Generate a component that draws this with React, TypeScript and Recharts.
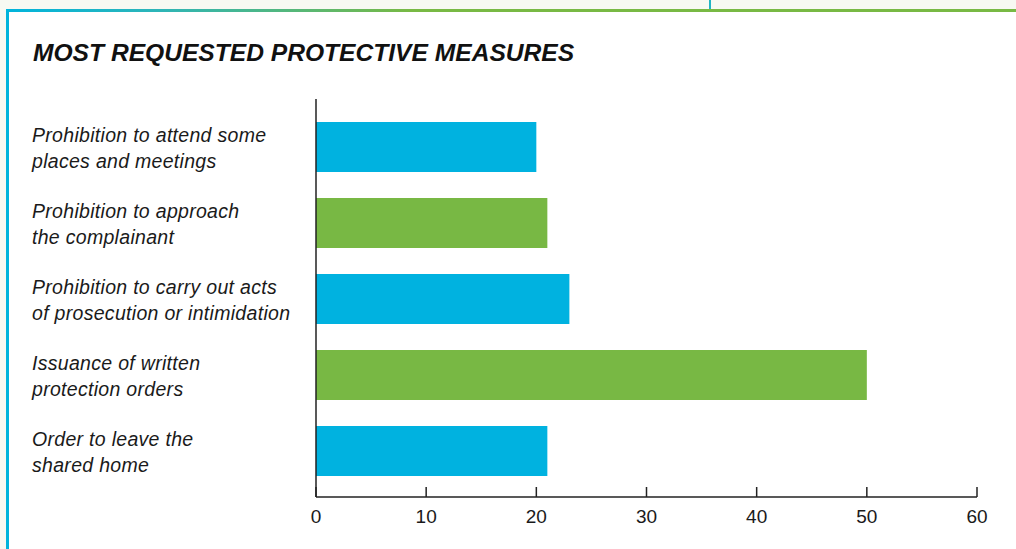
import { BarChart, Bar, XAxis, YAxis, Cell } from "recharts";

const categories = [
  "Prohibition to attend some\nplaces and meetings",
  "Prohibition to approach\nthe complainant",
  "Prohibition to carry out acts\nof prosecution or intimidation",
  "Issuance of written\nprotection orders",
  "Order to leave the\nshared home",
];
const values = [20, 21, 23, 50, 21];
const barColors = ["#00b2e0", "#78b844", "#00b2e0", "#78b844", "#00b2e0"];
const xTicks = [0, 10, 20, 30, 40, 50, 60];

const data = categories.map((name, i) => ({ name, value: values[i] }));

const FONT = '"Liberation Sans", Arial, Helvetica, sans-serif';

const CategoryTick = (props: any) => {
  const { y, payload } = props;
  const lines = String(payload.value).split("\n");
  return (
    <text x={32} y={y - 5} fill="#1a1a1a" fontSize={19.5} letterSpacing={0.3} fontStyle="italic" fontFamily={FONT}>
      {lines.map((l, i) => (
        <tspan key={i} x={32} dy={i === 0 ? 0 : 26}>{l}</tspan>
      ))}
    </text>
  );
};

const ValueTick = (props: any) => {
  const { x, y, payload } = props;
  return (
    <g>
      <line x1={x} x2={x} y1={y} y2={y - 10} stroke="#222" strokeWidth={1.5} />
      <text x={x} y={y + 26} textAnchor="middle" fill="#1a1a1a" fontSize={19} fontFamily={FONT}>
        {payload.value}
      </text>
    </g>
  );
};

export default function App() {
  return (
    <div style={{ position: "absolute", left: 0, top: 0, width: 1016, height: 549, background: "#f7f9f2", overflow: "hidden" }}>
      {/* white panel */}
      <div style={{ position: "absolute", left: 6, top: 9, width: 1010, height: 540, background: "#fff" }} />
      {/* top border gradient */}
      <div style={{ position: "absolute", left: 6, top: 9, width: 1010, height: 2.5, background: "linear-gradient(to right, #00b4dc 0%, #2db5b8 15%, #78b944 40%, #78b944 100%)" }} />
      {/* left border */}
      <div style={{ position: "absolute", left: 6, top: 9, width: 3, height: 540, background: "#00b4dc" }} />
      {/* small divider above */}
      <div style={{ position: "absolute", left: 709, top: 0, width: 2, height: 9, background: "#20b4c4" }} />

      <div style={{ position: "absolute", left: 33, top: 38, fontFamily: FONT, fontSize: 24.6, fontWeight: 700, fontStyle: "italic", color: "#111", whiteSpace: "nowrap", lineHeight: "30px" }}>
        MOST REQUESTED PROTECTIVE MEASURES
      </div>

      <div style={{ position: "absolute", left: 0, top: 0 }}>
        <BarChart
          width={1016}
          height={549}
          layout="vertical"
          data={data}
          margin={{ top: 99, right: 39, bottom: 22, left: 16 }}
        >
          <XAxis
            type="number"
            domain={[0, 60]}
            ticks={xTicks}
            interval={0}
            height={30}
            tickSize={0}
            tickMargin={0}
            tickLine={false}
            axisLine={{ stroke: "#222", strokeWidth: 1.5 }}
            tick={<ValueTick />}
          />
          <YAxis
            type="category"
            dataKey="name"
            width={300}
            tickLine={false}
            tickSize={0}
            axisLine={{ stroke: "#222", strokeWidth: 1.5 }}
            padding={{ top: 10, bottom: 8 }}
            tick={<CategoryTick />}
            interval={0}
          />
          <Bar dataKey="value" barSize={50} isAnimationActive={false}>
            {data.map((d, i) => (
              <Cell key={d.name} fill={barColors[i]} />
            ))}
          </Bar>
        </BarChart>
      </div>
    </div>
  );
}
